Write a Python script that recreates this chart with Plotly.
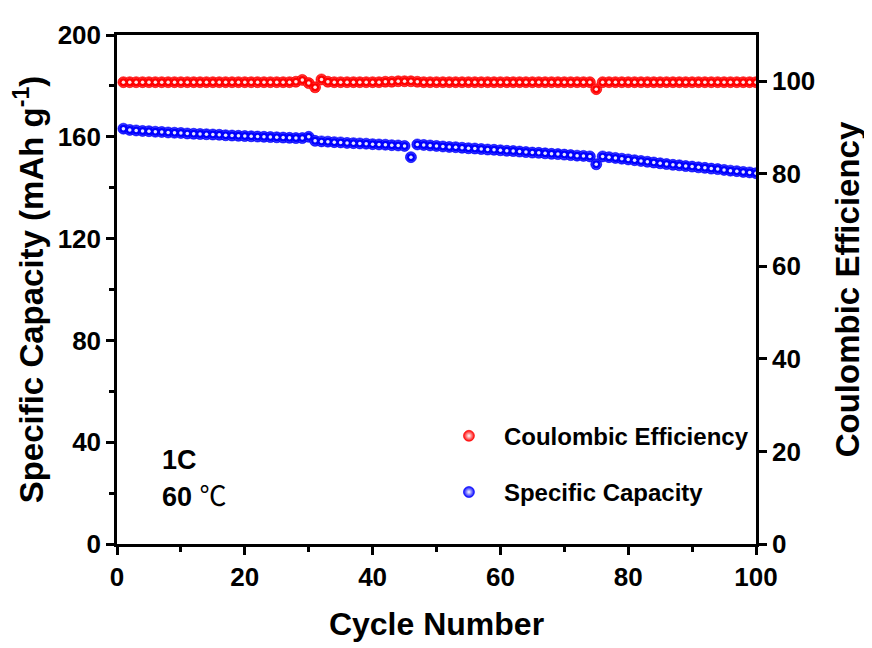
import plotly.graph_objects as go

cycles = list(range(1, 101))

capacity = [
    163.2, 162.7, 162.5, 162.3, 162.2, 162.0, 161.9, 161.7, 161.6, 161.5,
    161.3, 161.2, 161.1, 161.0, 160.9, 160.8, 160.6, 160.5, 160.4, 160.3,
    160.2, 160.1, 160.0, 159.9, 159.8, 159.7, 159.6, 159.5, 159.5, 160.0,
    158.4, 158.2, 158.1, 157.9, 157.8, 157.6, 157.5, 157.4, 157.3, 157.1,
    157.0, 156.9, 156.7, 156.6, 156.4, 152.0, 157.0, 156.8, 156.6, 156.4,
    156.2, 156.0, 155.9, 155.7, 155.5, 155.4, 155.2, 155.0, 154.9, 154.7,
    154.5, 154.4, 154.2, 154.0, 153.8, 153.7, 153.5, 153.3, 153.2, 153.0,
    152.8, 152.6, 152.5, 152.3, 149.2, 152.3, 152.0, 151.7, 151.4, 151.1,
    150.8, 150.5, 150.2, 149.9, 149.6, 149.3, 149.0, 148.8, 148.5, 148.3,
    148.0, 147.8, 147.5, 147.3, 147.0, 146.7, 146.5, 146.2, 146.0, 145.7,
]

coulombic_eff = [
    99.8, 99.8, 99.8, 99.8, 99.8, 99.8, 99.8, 99.8, 99.8, 99.8,
    99.8, 99.8, 99.8, 99.8, 99.8, 99.8, 99.8, 99.8, 99.8, 99.8,
    99.8, 99.8, 99.8, 99.8, 99.8, 99.8, 99.8, 99.9, 100.3, 99.6,
    98.7, 100.4, 99.9, 99.8, 99.8, 99.8, 99.8, 99.8, 99.8, 99.8,
    99.8, 99.9, 99.9, 100.0, 100.0, 100.0, 99.9, 99.8, 99.8, 99.8,
    99.8, 99.8, 99.8, 99.8, 99.8, 99.8, 99.8, 99.8, 99.8, 99.8,
    99.8, 99.8, 99.8, 99.8, 99.8, 99.8, 99.8, 99.8, 99.8, 99.8,
    99.8, 99.8, 99.8, 99.8, 98.3, 99.8, 99.8, 99.8, 99.8, 99.8,
    99.8, 99.8, 99.8, 99.8, 99.8, 99.8, 99.8, 99.8, 99.8, 99.8,
    99.8, 99.8, 99.8, 99.8, 99.8, 99.8, 99.8, 99.8, 99.8, 99.8,
]

x_ticks = [0, 20, 40, 60, 80, 100]
left_ticks = [0, 40, 80, 120, 160, 200]
right_ticks = [0, 20, 40, 60, 80, 100]

FONT = "Liberation Sans, Arial, sans-serif"

fig = go.Figure()


def add_series(y, color, name, axis):
    # coloured ball
    fig.add_trace(go.Scatter(
        x=cycles, y=y, yaxis=axis, mode="markers", name=name, legendgroup=name,
        marker=dict(size=11, color=color, line=dict(width=0.6, color=color),
                    gradient=dict(type="radial", color="#ffffff")),
        showlegend=True,
    ))
    # solid body + white highlight
    fig.add_trace(go.Scatter(
        x=cycles, y=y, yaxis=axis, mode="markers", legendgroup=name,
        marker=dict(size=8, color=color, line=dict(width=0)),
        showlegend=False, hoverinfo="skip",
    ))
    fig.add_trace(go.Scatter(
        x=cycles, y=y, yaxis=axis, mode="markers", legendgroup=name,
        marker=dict(size=3.5, color="#ffffff", opacity=0.9, line=dict(width=0)),
        showlegend=False, hoverinfo="skip",
    ))


add_series(coulombic_eff, "#ff0000", "Coulombic Efficiency", "y2")
add_series(capacity, "#0000ff", "Specific Capacity", "y")

axis_common = dict(
    showline=True, linecolor="black", linewidth=2.5,
    ticks="outside", ticklen=8, tickwidth=2.5, tickcolor="black",
    showgrid=False, zeroline=False,
    tickfont=dict(family=FONT, size=26, color="black", weight="bold"),
)

fig.update_layout(
    width=864, height=640,
    margin=dict(l=109, r=110, t=20, b=100),
    plot_bgcolor="white", paper_bgcolor="white",
    showlegend=True,
    legend=dict(
        x=0.496, y=0.256, xanchor="left", yanchor="top",
        bgcolor="rgba(0,0,0,0)", itemwidth=60,
        font=dict(family=FONT, size=24, color="black", weight="bold"),
        traceorder="grouped", tracegroupgap=22,
    ),
    xaxis=dict(
        **axis_common, range=[0, 100], tickvals=x_ticks, mirror=True,
        minor=dict(ticks="outside", ticklen=5, tickwidth=2.5, dtick=10, tick0=0, tickcolor="black"),
        title=dict(text="Cycle Number", standoff=22,
                   font=dict(family=FONT, size=32, color="black", weight="bold")),
    ),
    yaxis=dict(
        **axis_common, range=[0, 200], tickvals=left_ticks,
        minor=dict(ticks="outside", ticklen=5, tickwidth=2.5, dtick=20, tick0=0, tickcolor="black"),
        title=dict(text="Specific Capacity (mAh g<sup>-1</sup>)", standoff=8,
                   font=dict(family=FONT, size=33, color="black", weight="bold")),
    ),
    yaxis2=dict(
        **axis_common, range=[0, 110], tickvals=right_ticks,
        overlaying="y", side="right",
        title=dict(text="Coulombic Efficiency", standoff=22,
                   font=dict(family=FONT, size=33, color="black", weight="bold")),
    ),
    annotations=[
        dict(xref="paper", yref="paper", x=0.068, y=0.165, xanchor="left", yanchor="middle",
             text="1C", showarrow=False,
             font=dict(family=FONT, size=27, color="black", weight="bold")),
        dict(xref="paper", yref="paper", x=0.068, y=0.098, xanchor="left", yanchor="middle",
             text="60 <span style='font-family:\"Noto Sans CJK SC\"; font-weight:normal'>℃</span>",
             showarrow=False,
             font=dict(family=FONT, size=27, color="black", weight="bold")),
    ],
)

fig.write_html("out.html")
